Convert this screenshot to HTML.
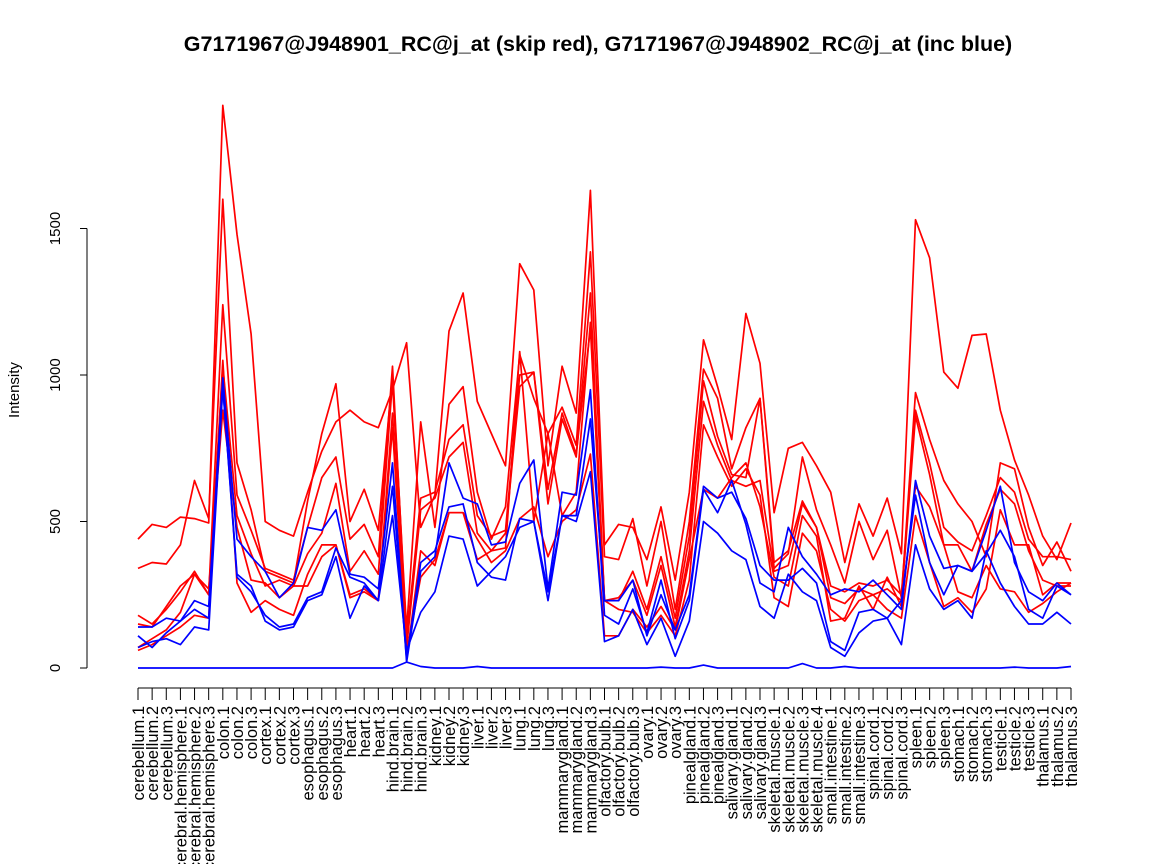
<!DOCTYPE html>
<html><head><meta charset="utf-8"><style>
html,body{margin:0;padding:0;background:#fff;}
svg{display:block;font-family:"Liberation Sans",sans-serif;}
</style></head><body>
<svg id="chart" width="1152" height="864">
<text x="598" y="51" text-anchor="middle" font-size="21.5" font-weight="bold">G7171967@J948901_RC@j_at (skip red), G7171967@J948902_RC@j_at (inc blue)</text>
<text transform="translate(19,390) rotate(-90)" text-anchor="middle" font-size="15">Intensity</text>
<g id="axes"></g>
<g id="series"></g>
</svg>
<script>
const tissues = ["cerebellum","cerebral.hemisphere","colon","cortex","esophagus","heart","hind.brain","kidney","liver","lung","mammarygland","olfactory.bulb","ovary","pinealgland","salivary.gland","skeletal.muscle","small.intestine","spinal.cord","spleen","stomach","testicle","thalamus"];
const yTicks = [0,500,1000,1500];
const red1 = [440,490,480, 515,510,495, 1920,1480,1140, 500,470,450, 600,740,840, 880,840,820, 950,1110,480, 590,1150,1280, 910,800,690, 1380,1290,690, 1030,870,1630, 420,490,480, 370,550,300, 600,1120,960, 780,1210,1040, 530,750,770,690, 600,360,560, 450,580,390, 1530,1400,1010, 955,1135,1140, 880,710,590, 450,370,495];
const red2 = [340,360,355, 420,640,510, 1600,700,540, 330,310,290, 570,800,970, 500,610,470, 1000,130,840, 480,900,960, 600,440,550, 1070,920,800, 890,760,1420, 380,370,510, 280,500,200, 500,1020,920, 680,820,920, 340,390,720,540, 420,290,500, 370,470,240, 940,780,640, 560,500,380, 700,680,480, 350,430,330];
const red3 = [180,150,200, 260,330,250, 1240,590,470, 340,320,300, 480,650,720, 440,490,380, 1030,100,580, 600,780,830, 520,450,470, 1000,1010,610, 870,730,1160, 230,230,330, 200,380,170, 450,980,790, 660,650,920, 360,400,570,480, 280,260,290, 280,300,250, 880,700,480, 430,400,520, 650,600,440, 380,380,370];
const red4 = [150,140,210, 280,320,250, 1030,520,390, 280,300,280, 390,460,630, 330,400,320, 980,70,540, 580,720,770, 460,400,460, 960,1010,560, 850,720,1280, 230,240,300, 180,350,140, 400,910,760, 640,620,640, 330,350,560,480, 240,220,270, 250,270,230, 860,660,420, 420,330,490, 610,560,400, 300,280,280];
const red5 = [70,100,130, 190,320,270, 880,480,300, 290,240,280, 280,380,420, 240,260,230, 820,50,310, 370,530,530, 440,360,400, 510,550,380, 500,540,730, 110,110,200, 140,210,130, 370,610,580, 650,700,550, 310,280,520,450, 160,170,280, 200,310,210, 620,550,420, 260,240,350, 270,260,190, 220,260,290];
const red6 = [60,80,110, 140,180,170, 1050,290,190, 230,200,180, 320,420,420, 250,270,230, 870,30,400, 350,530,530, 370,400,410, 1080,500,800, 520,600,1180, 230,200,190, 120,180,110, 300,830,720, 620,680,590, 240,210,460,400, 200,160,230, 250,200,170, 520,360,210, 240,190,270, 540,420,420, 250,290,290];
const blue1 = [110,70,120, 160,230,210, 990,440,380, 330,240,290, 480,470,540, 320,310,270, 700,20,330, 380,700,580, 560,420,430, 630,710,270, 600,590,950, 180,150,270, 120,300,100, 230,610,530, 640,490,290, 260,480,380,320, 250,270,260, 300,250,200, 640,450,340, 350,330,470, 620,360,260, 230,290,250];
const blue2 = [140,140,170, 160,200,170, 960,310,260, 180,140,150, 240,260,410, 310,290,230, 620,30,360, 400,550,560, 360,310,300, 510,500,260, 520,520,850, 230,230,300, 110,250,130, 250,620,580, 600,510,350, 300,300,340,290, 90,60,190, 200,170,230, 590,360,250, 350,330,390, 470,380,200, 170,280,250];
const blue3 = [70,90,100, 80,140,130, 960,320,280, 160,130,140, 230,250,380, 170,280,230, 520,60,190, 260,450,440, 280,330,380, 480,500,230, 520,500,670, 90,110,200, 80,170,40, 160,500,460, 400,370,210, 170,320,260,230, 70,40,120, 160,170,80, 420,270,200, 230,170,400, 290,210,150, 150,190,150];
const blue4 = [0,0,0, 0,0,0, 0,0,0, 0,0,0, 0,0,0, 0,0,0, 0,20,5, 0,0,0, 5,0,0, 0,0,0, 0,0,0, 0,0,0, 0,3,0, 0,10,0, 0,0,0, 0,0,15,0, 0,5,0, 0,0,0, 0,0,0, 0,0,0, 0,3,0, 0,0,5];

const categories = [];
tissues.forEach(t => { const n = t === "skeletal.muscle" ? 4 : 3; for (let i = 1; i <= n; i++) categories.push(t + "." + i); });

const NS = "http://www.w3.org/2000/svg";
const x0 = 138, x1 = 1071, yBase = 668, pxPer = 146.5 / 500;
const xs = i => x0 + i * (x1 - x0) / (categories.length - 1);
const ys = v => yBase - v * pxPer;
function mk(tag, attrs, parent) { const e = document.createElementNS(NS, tag); for (const k in attrs) e.setAttribute(k, attrs[k]); parent.appendChild(e); return e; }

const axes = document.getElementById("axes");
const yAxis = mk("line", {x1: 87, x2: 87, y1: ys(0), y2: ys(1500), stroke: "#000", "stroke-width": 1}, axes);


yTicks.forEach(t => {
  const tk = mk("line", {x1: 80, x2: 87, y1: ys(t), y2: ys(t), stroke: "#000"}, axes);
  
  
  const lb = mk("text", {transform: `translate(60,${ys(t)}) rotate(-90)`, "text-anchor": "middle", "font-size": 15}, axes);
  lb.textContent = t;
  
  
});
const xAxis = mk("line", {x1: x0, x2: x1, y1: 688, y2: 688, stroke: "#000"}, axes);


categories.forEach((c, i) => {
  const tk = mk("line", {x1: xs(i), x2: xs(i), y1: 688, y2: 700, stroke: "#000"}, axes);
  
  
  const lb = mk("text", {transform: `translate(${xs(i) + 6},706) rotate(-90)`, "text-anchor": "end", "font-size": 16.5}, axes);
  lb.textContent = c;
  
  
});

const series = document.getElementById("series");
[[red1,"#ff0000"],[red2,"#ff0000"],[red3,"#ff0000"],[red4,"#ff0000"],[red5,"#ff0000"],[red6,"#ff0000"],
 [blue1,"#0000ff"],[blue2,"#0000ff"],[blue3,"#0000ff"],[blue4,"#0000ff"]].forEach(([d, col]) => {
  const pts = d.map((v, i) => xs(i).toFixed(1) + "," + ys(v).toFixed(1)).join(" ");
  const pl = mk("polyline", {points: pts, fill: "none", stroke: col, "stroke-width": 1.7, "stroke-linejoin": "round"}, series);
  
  
});
</script>
</body></html>
